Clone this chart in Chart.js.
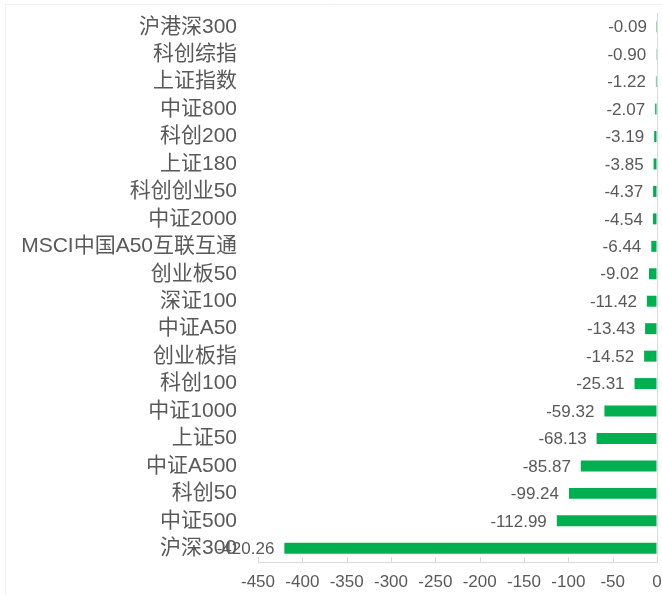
<!DOCTYPE html>
<html>
<head>
<meta charset="utf-8">
<script src="https://cdn.jsdelivr.net/npm/chart.js@4/dist/chart.umd.min.js"></script>
<style>
  html, body { margin: 0; padding: 0; background: #fff; }
  #wrap { width: 662px; height: 595px; position: relative; }
</style>
</head>
<body>
<div id="wrap"><canvas id="chart"></canvas></div>
<script>
// index names, top to bottom
const categories = [
    '沪港深300', '科创综指', '上证指数', '中证800', '科创200', '上证180',
    '科创创业50', '中证2000', 'MSCI中国A50互联互通', '创业板50', '深证100',
    '中证A50', '创业板指', '科创100', '中证1000', '上证50', '中证A500',
    '科创50', '中证500', '沪深300'
];
const values = [
    -0.09, -0.90, -1.22, -2.07, -3.19, -3.85,
    -4.37, -4.54, -6.44, -9.02, -11.42,
    -13.43, -14.52, -25.31, -59.32, -68.13, -85.87,
    -99.24, -112.99, -420.26
];
const axisMin = -450;
const axisMax = 0;
const axisStep = 50;

const TEXT = '#595959';
const LINE = '#d9d9d9';
const FONT = '"Liberation Sans", Arial, "Noto Sans CJK SC", sans-serif';

const barLabels = {
    id: 'barLabels',
    afterDatasetsDraw: (chart) => {
        const { ctx } = chart;
        const meta = chart.getDatasetMeta(0);
        ctx.save();
        ctx.font = '17px ' + FONT;
        ctx.fillStyle = TEXT;
        ctx.textAlign = 'right';
        ctx.textBaseline = 'middle';
        meta.data.forEach((bar, i) => {
            ctx.fillText(values[i].toFixed(2), bar.x - 10, bar.y + 1);
        });
        ctx.restore();
    },
};

// small tick marks pointing up from the axis line, plus the faint outer frame
const innerTicks = {
    id: 'innerTicks',
    beforeDraw: (chart) => {
        const { ctx } = chart;
        ctx.save();
        ctx.strokeStyle = '#f0f0f0';
        ctx.lineWidth = 1;
        ctx.beginPath();
        ctx.moveTo(5.5, 700);
        ctx.lineTo(5.5, 4.5);
        ctx.lineTo(700, 4.5);
        ctx.stroke();
        ctx.restore();
    },
    afterDraw: (chart) => {
        const { ctx, chartArea, scales } = chart;
        ctx.save();
        ctx.strokeStyle = LINE;
        ctx.lineWidth = 1;
        ctx.beginPath();
        scales.x.ticks.forEach((t) => {
            const x = Math.round(scales.x.getPixelForValue(t.value)) + 0.5;
            ctx.moveTo(x, chartArea.bottom);
            ctx.lineTo(x, chartArea.bottom - 5);
        });
        ctx.stroke();
        ctx.restore();
    },
};

new Chart(document.getElementById('chart'), {
    type: 'bar',
    data: {
        labels: categories,
        datasets: [{
            data: values,
            backgroundColor: '#00b050',
            barPercentage: 0.8,
            categoryPercentage: 0.5,
        }],
    },
    options: {
        indexAxis: 'y',
        responsive: true,
        maintainAspectRatio: false,
        animation: false,
        layout: { padding: { top: 13, right: 5, left: 6, bottom: 2 } },
        plugins: {
            legend: { display: false },
            tooltip: { enabled: false },
        },
        scales: {
            x: {
                min: axisMin,
                max: axisMax,
                afterFit: (scale) => {
                    scale.height = 31;
                    scale.paddingRight = 0;
                    scale.paddingLeft = 0;
                },
                ticks: {
                    stepSize: axisStep,
                    color: TEXT,
                    font: { family: FONT, size: 17 },
                    padding: 10,
                    maxRotation: 0,
                },
                grid: {
                    drawTicks: false,
                    color: (c) => (c.tick && c.tick.value === 0 ? LINE : 'rgba(0,0,0,0)'),
                },
                border: { color: LINE },
            },
            y: {
                afterFit: (scale) => {
                    scale.width = 252;
                    scale.paddingTop = 0;
                    scale.paddingBottom = 0;
                },
                ticks: {
                    color: TEXT,
                    font: { family: FONT, size: 21 },
                    padding: 21,
                    autoSkip: false,
                },
                grid: { display: false, drawTicks: false },
                border: { display: false },
            },
        },
    },
    plugins: [barLabels, innerTicks],
});
</script>
</body>
</html>
